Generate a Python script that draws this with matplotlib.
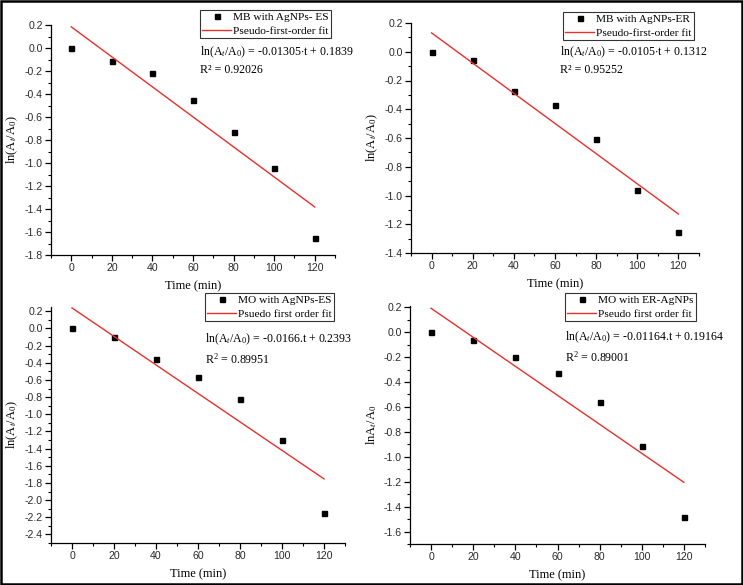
import numpy as np
import matplotlib
matplotlib.use("Agg")
import matplotlib.pyplot as plt
from matplotlib.patches import Rectangle

plt.rcParams['font.family'] = 'Liberation Serif'
plt.rcParams['mathtext.fontset'] = 'custom'
plt.rcParams['mathtext.rm'] = 'Liberation Serif'
plt.rcParams['mathtext.it'] = 'Liberation Serif:italic'

# data
t = [0, 20, 40, 60, 80, 100, 120]
mb_es = [0.0, -0.11, -0.22, -0.45, -0.73, -1.04, -1.65]
mb_er = [0.0, -0.055, -0.27, -0.37, -0.61, -0.965, -1.255]
mo_es = [0.0, -0.10, -0.36, -0.56, -0.82, -1.30, -2.15]
mo_er = [0.0, -0.06, -0.20, -0.33, -0.56, -0.915, -1.485]

slopes = [-0.01305, -0.0105, -0.0166, -0.01164]
intercepts = [0.1839, 0.1312, 0.2393, 0.19164]

series_names = ['MB with AgNPs- ES', 'MB with AgNPs-ER', 'MO with AgNPs-ES', 'MO with ER-AgNPs']
fit_names = ['Pseudo-first-order fit', 'Pseudo-first-order fit',
             'Psuedo first order fit', 'Pseudo first order fit']
eq_texts = [r'ln(A$_t$/A$_0$) = -0.01305$\cdot$t + 0.1839',
            r'ln(A$_t$/A$_0$) = -0.0105$\cdot$t + 0.1312',
            r'ln(A$_t$/A$_0$) = -0.0166.t + 0.2393',
            r'ln(A$_t$/A$_0$) = -0.01164.t + 0.19164']
r2_texts = ['R² = 0.92026', 'R² = 0.95252', r'R$^2$ = 0.89951', r'R$^2$ = 0.89001']
ylabels = [r'ln(A$_t$/A$_0$)', r'ln(A$_t$/A$_0$)', r'ln(A$_t$/A$_0$)', r'lnA$_t$/A$_0$']
ylims = [(-1.8, 0.2), (-1.4, 0.2), (-2.5, 0.25), (-1.7, 0.21)]
yticks = [np.arange(-1.8, 0.21, 0.2), np.arange(-1.4, 0.21, 0.2),
          np.arange(-2.4, 0.21, 0.2), np.arange(-1.6, 0.21, 0.2)]
ydata = [mb_es, mb_er, mo_es, mo_er]

W, H = 743, 585
fig = plt.figure(figsize=(W/100, H/100), dpi=100)

def px(x, y):
    return (x / W, 1 - y / H)

# axes boxes in pixels: left, top, right, bottom
boxes = [(51, 25, 335, 255), (411, 23, 699, 253), (51, 307, 345, 543), (410, 306, 705, 544)]
leg_pos = [(200, 10), (563, 12), (205, 293), (565, 293)]
eq_pos = [(200, 52), (560, 52), (205, 339), (565, 337)]
r2_pos = [(200, 70), (560, 70), (205, 359), (565, 357)]

for i in range(4):
    l, tp, r, b = boxes[i]
    ax = fig.add_axes([l / W, 1 - b / H, (r - l) / W, (b - tp) / H])
    ax.plot(t, ydata[i], ls='', marker='s', color='black', markersize=3.6, label=series_names[i])
    tt = np.array([t[0], t[-1]])
    ax.plot(tt, slopes[i] * tt + intercepts[i], color='#e8302c', lw=1, label=fit_names[i])

    ax.set_xlim(-10, 130)
    ax.set_ylim(*ylims[i])
    ax.set_xticks(t)
    ax.set_xticks(np.arange(-10, 131, 10), minor=True)
    ax.set_yticks(yticks[i])
    ax.set_yticklabels(['%.1f' % v if abs(v) > 1e-9 else '0.0' for v in yticks[i]])
    ax.yaxis.set_minor_locator(matplotlib.ticker.MultipleLocator(0.1))
    for s in ['top', 'right']:
        ax.spines[s].set_visible(False)
    for s in ['left', 'bottom']:
        ax.spines[s].set_linewidth(0.9)
    ax.tick_params(which='major', direction='out', length=4, width=0.9, labelsize=7.6,
                   labelcolor='#2a2a2a', pad=2)
    ax.tick_params(which='minor', direction='out', length=2, width=0.8)
    for lab in ax.get_xticklabels() + ax.get_yticklabels():
        lab.set_family('Liberation Sans')
    ax.set_xlabel('Time (min)', fontsize=9, labelpad=5)
    ax.set_ylabel(ylabels[i], fontsize=9, labelpad=3)

    leg = ax.legend(loc='upper left', bbox_to_anchor=px(*leg_pos[i]),
                    bbox_transform=fig.transFigure, fontsize=8.2, frameon=True,
                    fancybox=False, edgecolor='black', borderpad=0.2,
                    handlelength=2.5, handletextpad=0.2, labelspacing=0.3,
                    borderaxespad=0)
    leg.get_frame().set_linewidth(0.8)
    fig.text(*px(*eq_pos[i]), eq_texts[i], fontsize=8.6, va='center', ha='left')
    fig.text(*px(*r2_pos[i]), r2_texts[i], fontsize=8.6, va='center', ha='left')

fig.patches.append(Rectangle((0.0015, 0.002), 0.997, 0.996, transform=fig.transFigure,
                             fill=False, edgecolor='black', lw=1.8))

fig.savefig('out.png', dpi=100)
